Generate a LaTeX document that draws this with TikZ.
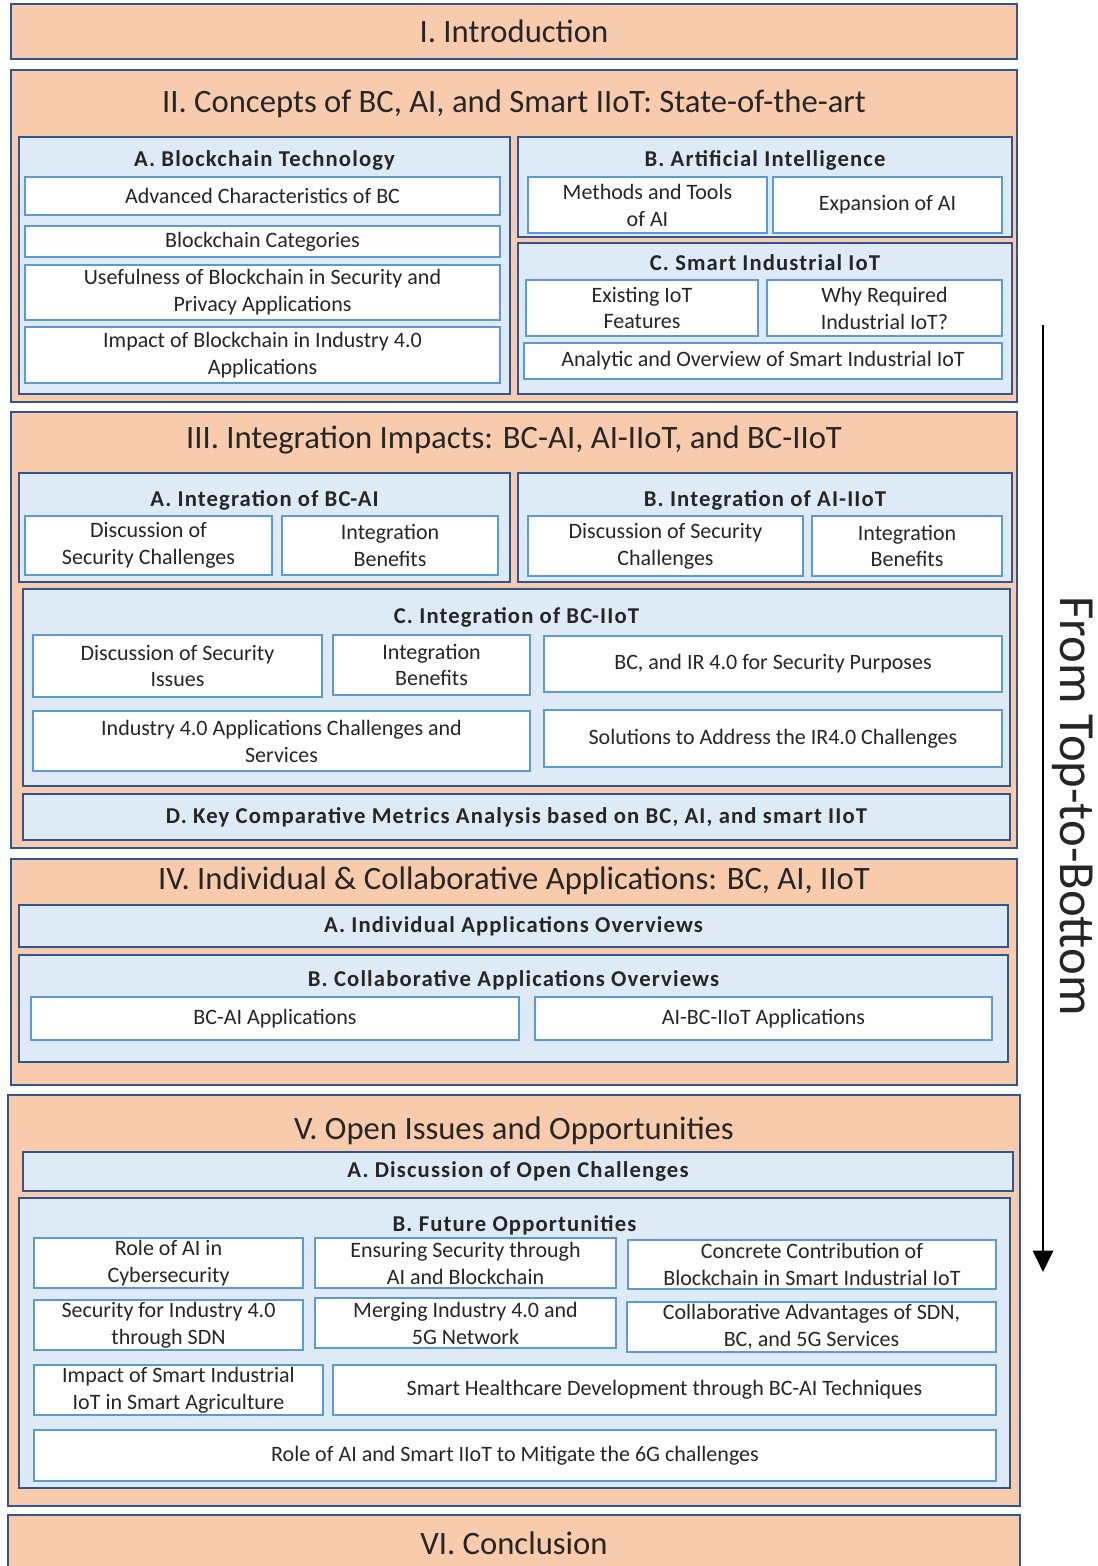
\documentclass[tikz,border=0pt]{standalone}
\usepackage{fontspec}
\setmainfont{Carlito}
\newfontfamily\headfont{Carlito}[LetterSpace=5]
\usetikzlibrary{arrows.meta}
\definecolor{peach}{HTML}{F8CBAD}
\definecolor{navy}{HTML}{2F5597}
\definecolor{paleblue}{HTML}{DEEBF7}
\definecolor{itemblue}{HTML}{5B9BD5}
\definecolor{ink}{HTML}{262626}
\newcommand\bx[7]{\node[#1, minimum width={(#5-#3)*0.75pt}, minimum height={(#6-#4)*0.75pt}] (#2) at ({(#3+#5)/2},{(#4+#6)/2}) {#7};}
\tikzset{
  base/.style={inner sep=0pt, outer sep=0pt, text=ink, align=center},
  sect/.style={base, draw=navy, fill=peach, line width=2.2pt},
  secttext/.style={sect, font=\fontsize{24.5}{28}\selectfont},
  sectitle/.style={base, yshift=-1.8pt, font=\fontsize{24.5}{28}\selectfont},
  cont/.style={base, draw=navy, fill=paleblue, line width=2.2pt},
  conttext/.style={cont, font=\headfont\bfseries\fontsize{17}{20}\selectfont},
  subtitle/.style={base, yshift=-1.5pt, font=\headfont\bfseries\fontsize{17}{20}\selectfont},
  item/.style={base, draw=itemblue, fill=white, line width=2pt, font=\fontsize{16.5}{20.2}\selectfont},
}
\begin{document}
\begin{tikzpicture}[x=0.75pt, y=-0.75pt]
\useasboundingbox (0,0) rectangle (1097,1566);
\fill[white] (0,0) rectangle (1097,1566);
% I
\bx{secttext}{s1}{11}{4}{1017}{59}{I. Introduction}
% II
\bx{sect}{s2}{11}{70}{1017}{402}{}
\node[sectitle] (s2t) at (514,101) {II. Concepts of BC, AI, and Smart IIoT: State-of-the-art};
\bx{cont}{s2a}{19}{137}{510}{394}{}
\node[subtitle] (s2at) at (264.5,158) {A. Blockchain Technology};
\bx{item}{s2a1}{25}{177}{500}{215}{Advanced Characteristics of BC}
\bx{item}{s2a2}{25}{226}{500}{257}{Blockchain Categories}
\bx{item}{s2a3}{25}{265}{500}{320}{Usefulness of Blockchain in Security and\\Privacy Applications}
\bx{item}{s2a4}{25}{327}{500}{383}{Impact of Blockchain in Industry 4.0\\Applications}
\bx{cont}{s2b}{518}{137}{1012}{237}{}
\node[subtitle] (s2bt) at (765,158) {B. Artificial Intelligence};
\bx{item}{s2b1}{528}{177}{767}{233}{Methods and Tools\\of AI}
\bx{item}{s2b2}{773}{177}{1002}{233}{Expansion of AI}
\bx{cont}{s2c}{518}{243}{1012}{394}{}
\node[subtitle] (s2ct) at (765,261) {C. Smart Industrial IoT};
\bx{item}{s2c1}{526}{280}{758}{336}{Existing IoT\\Features}
\bx{item}{s2c2}{767}{280}{1002}{336}{Why Required\\Industrial IoT?}
\bx{item}{s2c3}{524}{343}{1002}{379}{Analytic and Overview of Smart Industrial IoT}
% III
\bx{sect}{s3}{11}{412}{1017}{848}{}
\node[sectitle] (s3t) at (514,438) {III. Integration Impacts: BC-AI, AI-IIoT, and BC-IIoT};
\bx{cont}{s3a}{19}{473}{510}{582}{}
\node[subtitle] (s3at) at (264.5,498) {A. Integration of BC-AI};
\bx{item}{s3a1}{25}{516}{272}{575}{Discussion of\\Security Challenges}
\bx{item}{s3a2}{282}{516}{498}{575}{Integration\\Benefits}
\bx{cont}{s3b}{518}{473}{1012}{582}{}
\node[subtitle] (s3bt) at (765,498) {B. Integration of AI-IIoT};
\bx{item}{s3b1}{528}{516}{803}{576}{Discussion of Security\\Challenges}
\bx{item}{s3b2}{812}{516}{1002}{576}{Integration\\Benefits}
\bx{cont}{s3c}{23}{589}{1010}{786}{}
\node[subtitle] (s3ct) at (516.5,615) {C. Integration of BC-IIoT};
\bx{item}{s3c1}{33}{635}{322}{697}{Discussion of Security\\Issues}
\bx{item}{s3c2}{333}{635}{530}{695}{Integration\\Benefits}
\bx{item}{s3c3}{544}{636}{1002}{692}{BC, and IR 4.0 for Security Purposes}
\bx{item}{s3c4}{33}{711}{530}{771}{Industry 4.0 Applications Challenges and\\Services}
\bx{item}{s3c5}{544}{710}{1002}{767}{Solutions to Address the IR4.0 Challenges}
\bx{conttext}{s3d}{23}{794}{1010}{840}{D. Key Comparative Metrics Analysis based on BC, AI, and smart IIoT}
% IV
\bx{sect}{s4}{11}{859}{1017}{1085}{}
\node[sectitle] (s4t) at (514,878) {IV. Individual \& Collaborative Applications: BC, AI, IIoT};
\bx{conttext}{s4a}{19}{905}{1008}{947}{A. Individual Applications Overviews}
\bx{cont}{s4b}{19}{955}{1008}{1062}{}
\node[subtitle] (s4bt) at (513.5,978) {B. Collaborative Applications Overviews};
\bx{item}{s4b1}{31}{997}{519}{1040}{BC-AI Applications}
\bx{item}{s4b2}{535}{997}{992}{1040}{AI-BC-IIoT Applications}
% V
\bx{sect}{s5}{8}{1095}{1020}{1506}{}
\node[sectitle] (s5t) at (514,1128) {V. Open Issues and Opportunities};
\bx{conttext}{s5a}{23}{1152}{1013}{1191}{A. Discussion of Open Challenges}
\bx{cont}{s5b}{19}{1198}{1010}{1488}{}
\node[subtitle] (s5bt) at (514.5,1223) {B. Future Opportunities};
\bx{item}{s5b1}{34}{1238}{303}{1288}{Role of AI in\\Cybersecurity}
\bx{item}{s5b2}{315}{1238}{616}{1288}{Ensuring Security through\\AI and Blockchain}
\bx{item}{s5b3}{628}{1240}{996}{1289}{Concrete Contribution of\\Blockchain in Smart Industrial IoT}
\bx{item}{s5b4}{34}{1300}{303}{1350}{Security for Industry 4.0\\through SDN}
\bx{item}{s5b5}{315}{1298}{616}{1348}{Merging Industry 4.0 and\\5G Network}
\bx{item}{s5b6}{627}{1302}{996}{1352}{Collaborative Advantages of SDN,\\BC, and 5G Services}
\bx{item}{s5b7}{34}{1365}{323}{1415}{Impact of Smart Industrial\\IoT in Smart Agriculture}
\bx{item}{s5b8}{333}{1365}{996}{1415}{Smart Healthcare Development through BC-AI Techniques}
\bx{item}{s5b9}{34}{1430}{996}{1481}{Role of AI and Smart IIoT to Mitigate the 6G challenges}
% VI
\bx{secttext}{s6}{8}{1515}{1020}{1571}{VI. Conclusion}
% arrow
\coordinate (atop) at (1043,325);
\coordinate (abot) at (1043,1272);
\draw[line width=2.2pt, -{Triangle[length=16pt, width=15pt]}] (atop) -- (abot);
\node[base, rotate=-90, font=\fontsize{38}{42}\selectfont] (flow) at (1073,806) {From Top-to-Bottom};
\end{tikzpicture}
\end{document}
